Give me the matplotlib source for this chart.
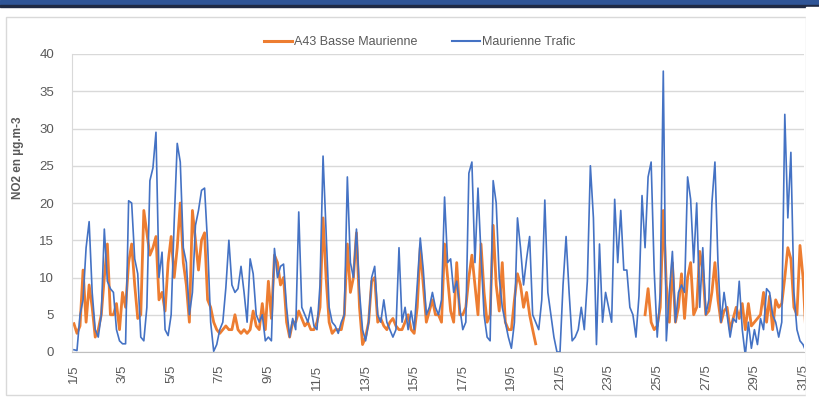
import numpy as np
import matplotlib
matplotlib.use('Agg')
import matplotlib.pyplot as plt
from matplotlib.patches import Rectangle
from matplotlib.lines import Line2D

plt.rcParams['font.family'] = ['Liberation Sans', 'DejaVu Sans']

nan = np.nan

# NO2 values read every 3 hours, one row per day (1/5 ... 31/5)
trafic = [
    0.3, 0.2, 5, 7, 14, 17.5, 8, 3,           # 1/5
    2, 5, 16.5, 9.5, 8.5, 8, 3, 1.5,          # 2/5
    1.1, 1.1, 20.3, 20, 12.5, 10.5, 2, 1.5,   # 3/5
    6, 23, 24.7, 29.5, 10, 13.4, 3, 2.2,      # 4/5
    5, 17.5, 28, 25.5, 14, 12, 5, 8,          # 5/5
    17, 19, 21.7, 22, 14.5, 4, 0.1, 1,        # 6/5
    3, 4, 8.6, 15, 9, 8, 8.5, 11.5,           # 7/5
    8, 4, 12.5, 10.5, 5, 4, 5, 1.5,           # 8/5
    2, 1.5, 13.9, 10, 11.5, 11.8, 6, 2,       # 9/5
    4.5, 3, 18.8, 6, 5, 4, 6, 3.5,            # 10/5
    3, 9, 26.3, 16, 6, 4, 3.5, 2.5,           # 11/5
    4, 5, 23.5, 12, 10, 16.5, 8, 3,           # 12/5
    1.5, 4, 10, 11.5, 5, 4, 7, 4,             # 13/5
    3, 2, 3, 14, 4, 6, 3, 5.5,                # 14/5
    3, 9, 15.3, 11, 5, 6, 8, 6,               # 15/5
    5, 7, 20.8, 12, 12.5, 8, 9.5, 6,          # 16/5
    3, 4, 24, 25.5, 12, 22, 13, 5,            # 17/5
    2, 1.5, 23, 20, 10, 6, 4, 2,              # 18/5
    0.5, 4, 18, 14, 9, 12.5, 15.5, 5,         # 19/5
    4, 3, 7, 20.4, 8, 5, 2, 0,                # 20/5
    0, 9, 15.5, 8, 1.5, 2, 3, 6,              # 21/5
    3, 9.5, 25, 18, 1, 14.5, 4, 8,            # 22/5
    6, 4, 20.5, 12, 19, 11, 11, 6,            # 23/5
    5, 2, 7.5, 21, 14, 23.5, 25.5, 11,        # 24/5
    2, 8, 37.7, 1.5, 8, 13.5, 4, 8,           # 25/5
    9, 8, 23.5, 20.5, 12, 20, 6, 14,          # 26/5
    5, 7, 20, 25.5, 12, 4, 8, 5,              # 27/5
    2, 4.5, 4, 9.5, 3, -0.5, 4, 0.5,          # 28/5
    3, 1, 4.5, 3, 8.5, 8, 5, 4,               # 29/5
    2, 4, 31.9, 18, 26.8, 8, 3, 1.5,          # 30/5
    1, 0,                                     # 31/5
]

a43 = [
    3.8, 2.5, 3.5, 11, 4, 9, 6, 2,            # 1/5
    3, 5, 10, 14.5, 5, 5, 6.5, 3,             # 2/5
    8, 6, 12, 14.5, 9, 4.5, 5, 19,            # 3/5
    16, 13, 14, 15.5, 7, 8, 5.5, 12,          # 4/5
    15.5, 10, 14, 20, 12, 9, 4, 19,           # 5/5
    15, 11, 15, 16, 7, 6, 4, 3,               # 6/5
    2.5, 3, 3.5, 3, 3, 5, 3, 2.5,             # 7/5
    3, 2.5, 3, 5.5, 3.5, 3, 6.5, 3,           # 8/5
    9.5, 4.5, 13, 12, 9, 10, 4, 2,            # 9/5
    4, 4, 5.5, 4.5, 3.5, 4, 3, 3,             # 10/5
    4, 6, 18, 10, 4, 2.5, 3, 3,               # 11/5
    3, 5, 14.5, 8, 10, 16, 6, 1,              # 12/5
    2, 4, 9.5, 10, 4, 4.5, 3.5, 3,            # 13/5
    4, 4.5, 3.5, 3, 3, 4, 5, 3,               # 14/5
    2.5, 6, 14, 9, 4, 5.5, 7, 5,              # 15/5
    5, 4, 14.5, 10, 5.5, 4, 12, 5,            # 16/5
    5, 6, 10, 13, 9, 5, 14.5, 8,              # 17/5
    4, 5, 17, 9, 5.5, 12, 4, 3,               # 18/5
    3, 7, 10.5, 9, 6, 8, 5, 3,                # 19/5
    1.1, nan, nan, nan, nan, nan, nan, nan,   # 20/5
    nan, nan, nan, nan, nan, nan, nan, nan,   # 21/5
    nan, nan, nan, nan, nan, nan, nan, nan,   # 22/5
    nan, nan, nan, nan, nan, nan, nan, nan,   # 23/5
    nan, nan, nan, nan, 5, 8.5, 4, 3,         # 24/5
    3.5, 6, 19, 9, 4, 12, 4, 6,               # 25/5
    10.5, 4.5, 10, 12, 5, 6, 13.5, 11,        # 26/5
    5, 5.5, 8, 12, 7, 4, 5.5, 6,              # 27/5
    3, 4.5, 6, 4.5, 6.5, 3, 6.5, 3.5,         # 28/5
    4, 4.5, 5, 8, 4, 7.5, 3, 7,               # 29/5
    6, 6.5, 10, 14, 12.5, 6, 5, 14.3,         # 30/5
    10, 2,                                    # 31/5
]

tick_labels = ['1/5', '3/5', '5/5', '7/5', '9/5', '11/5', '13/5', '15/5',
               '17/5', '19/5', '21/5', '23/5', '25/5', '27/5', '29/5', '31/5']

W, H = 819, 403
fig = plt.figure(figsize=(W / 100, H / 100), dpi=100)

# header band + chart frame
fig.patches.append(Rectangle((0, 1 - 5 / H), 1, 5 / H, transform=fig.transFigure,
                             color='#2F5597', zorder=0))
fig.patches.append(Rectangle((0, 1 - 7 / H), 1, 2 / H, transform=fig.transFigure,
                             color='#1F2A44', zorder=0))
fig.patches.append(Rectangle((6 / W, 1 - 395 / H), 800 / W, 378 / H, transform=fig.transFigure,
                             facecolor='none', edgecolor='#D9D9D9', lw=1, zorder=0))

ax = fig.add_axes([72 / W, 1 - 352 / H, 732 / W, 298 / H])
ax.set_facecolor('none')
t = np.arange(len(trafic)) / 8

ax.plot(t, a43, color='#ED7D31', lw=2.0, label='A43 Basse Maurienne')
ax.plot(t, trafic, color='#4472C4', lw=1.2, label='Maurienne Trafic')

ax.set_ylim(0, 40)
ax.set_yticks(range(0, 41, 5))
ax.set_xlim(-0.08, 30.04)
ax.set_xticks(range(0, 31, 2))
ax.set_xticklabels(tick_labels, rotation=90, va='top', ha='center')
ax.tick_params(axis='both', length=0, labelsize=9.5, colors='#595959')
ax.tick_params(axis='x', pad=9)
ax.tick_params(axis='y', pad=13)
ax.grid(axis='y', color='#D9D9D9', lw=1)
ax.set_axisbelow(True)
for s in ['top', 'right']:
    ax.spines[s].set_visible(False)
ax.spines['left'].set_color('#D9D9D9')
ax.spines['bottom'].set_color('#BFBFBF')

fig.text(18 / W, 1 - 158 / H, 'NO2 en µg.m-3', rotation=90, ha='center', va='center',
         fontsize=8.5, fontweight='bold', color='#595959')

handles = [Line2D([], [], color='#ED7D31', lw=2.2), Line2D([], [], color='#4472C4', lw=1.5)]
fig.legend(handles, ['A43 Basse Maurienne', 'Maurienne Trafic'], loc='center',
           bbox_to_anchor=(420 / W, 1 - 42 / H), ncol=2, frameon=False, fontsize=9,
           handlelength=2.2, columnspacing=2.8, handletextpad=0.2, labelcolor='#595959')

# picture is cut on the right
fig.patches.append(Rectangle((806 / W, 0), 13 / W, 1 - 7 / H, transform=fig.transFigure,
                             color='white', zorder=10))

fig.savefig('out.png', dpi=100)
